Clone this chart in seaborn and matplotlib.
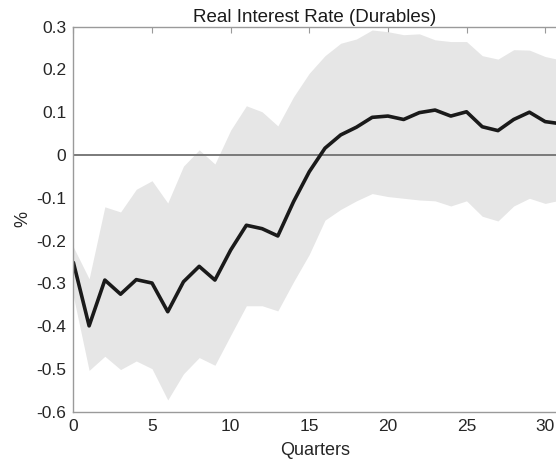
import numpy as np
import pandas as pd
import seaborn as sns
import matplotlib.pyplot as plt

# Impulse response of the real interest rate (durables), with error band
quarters = list(range(32))
irf = [-0.251, -0.399, -0.292, -0.325, -0.291, -0.299, -0.366, -0.296,
       -0.260, -0.292, -0.222, -0.164, -0.172, -0.189, -0.109, -0.039,
       0.016, 0.047, 0.065, 0.088, 0.091, 0.083, 0.099, 0.105,
       0.091, 0.101, 0.066, 0.057, 0.083, 0.100, 0.078, 0.073]
upper = [-0.215, -0.289, -0.121, -0.133, -0.080, -0.060, -0.112, -0.026,
         0.012, -0.021, 0.058, 0.115, 0.101, 0.068, 0.136, 0.191,
         0.232, 0.261, 0.271, 0.292, 0.288, 0.281, 0.283, 0.269,
         0.265, 0.265, 0.232, 0.224, 0.246, 0.245, 0.230, 0.222]
lower = [-0.330, -0.503, -0.470, -0.501, -0.481, -0.499, -0.572, -0.511,
         -0.473, -0.491, -0.421, -0.352, -0.352, -0.364, -0.296, -0.232,
         -0.152, -0.127, -0.107, -0.090, -0.097, -0.101, -0.105, -0.107,
         -0.119, -0.107, -0.143, -0.154, -0.119, -0.101, -0.113, -0.105]

df = pd.DataFrame({"quarter": quarters, "irf": irf, "upper": upper, "lower": lower})

sns.set_style("white")
plt.rcParams['font.family'] = ['Liberation Sans', 'DejaVu Sans']

fig = plt.figure(figsize=(5.56, 4.66), dpi=100)
ax = fig.add_axes([0.132, 0.116, 0.868, 0.827])

ax.fill_between(df["quarter"], df["lower"], df["upper"], color="#e6e6e6", lw=0)
ax.axhline(0, color="#7a7a7a", lw=1.4)
sns.lineplot(data=df, x="quarter", y="irf", color="#1a1a1a", lw=2.6, ax=ax)

ax.set_xlim(0, 30.69)
ax.set_ylim(-0.6, 0.3)
ax.set_xticks(range(0, 31, 5))
ax.set_yticks(np.round(np.arange(-0.6, 0.31, 0.1), 1))
ax.set_yticklabels(["-0.6", "-0.5", "-0.4", "-0.3", "-0.2", "-0.1", "0", "0.1", "0.2", "0.3"])

for side in ["left", "bottom", "top"]:
    ax.spines[side].set_color("#9a9a9a")
    ax.spines[side].set_linewidth(1.0)
ax.spines["right"].set_visible(False)
ax.tick_params(direction="in", length=4, color="#9a9a9a", top=True,
               labelsize=12.5, labelcolor="#262626", pad=5)

ax.set_title("Real Interest Rate (Durables)", fontsize=13.5, color="#1a1a1a", pad=3)
ax.set_xlabel("Quarters", fontsize=13, color="#262626", labelpad=6)
ax.set_ylabel("%", fontsize=13, color="#262626", labelpad=4)

fig.savefig("out.png", dpi=100)
